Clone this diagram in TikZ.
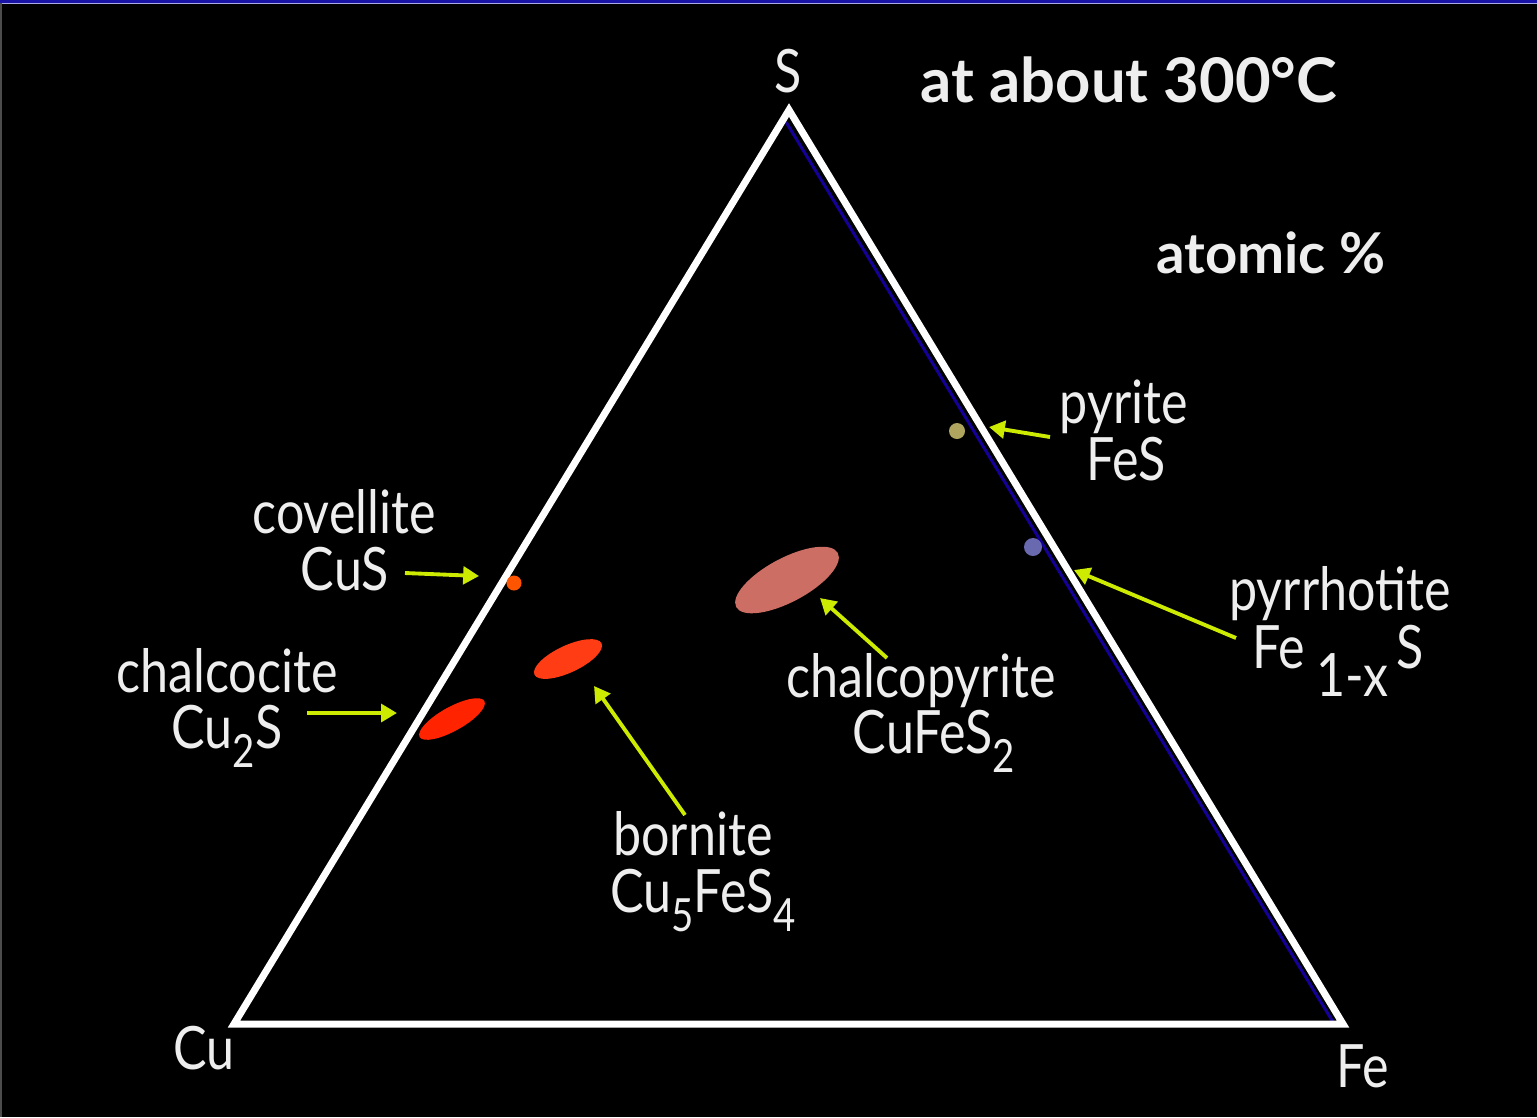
\documentclass[tikz,border=0pt]{standalone}
\usepackage{fontspec}
\setmainfont{Lato}
\newfontfamily\labfont[FakeStretch=0.84]{Lato}
\usetikzlibrary{arrows.meta,shapes.geometric}
\definecolor{navyb}{RGB}{25,20,165}
\definecolor{edgeblue}{RGB}{20,0,150}
\definecolor{arrowyel}{RGB}{205,235,0}
\definecolor{covc}{RGB}{255,85,0}
\definecolor{bornc}{RGB}{255,60,20}
\definecolor{chcc}{RGB}{255,35,0}
\definecolor{cpyc}{RGB}{205,110,100}
\definecolor{pyrc}{RGB}{175,165,95}
\definecolor{pooc}{RGB}{105,105,175}
\definecolor{labc}{RGB}{238,238,238}
\newcommand\sbs[1]{\raisebox{-5.5pt}{\fontsize{13}{13}\selectfont #1}}
\begin{document}
\begin{tikzpicture}[x=0.01cm,y=-0.01cm,
  lab/.style={font=\labfont\fontsize{17}{17}\selectfont, text=labc, inner sep=0pt, anchor=base},
  ttl/.style={font=\bfseries\fontsize{17.5}{17.5}\selectfont, text=labc, inner sep=0pt, anchor=base},
  blob/.style={ellipse, inner sep=0pt, draw=none},
  dot/.style={circle, inner sep=0pt, draw=none},
  ptr/.style={draw=arrowyel, line width=1.1pt, -{Triangle[length=4.5pt,width=5pt]}},
  side/.style={draw=white, line width=2pt, line join=miter}]
\fill[black] (0,0) rectangle (1537,1117);
\useasboundingbox (0,0) rectangle (1537,1117);
\fill[navyb] (0,0) rectangle (1537,3);
\draw[color={rgb,255:red,170;green,170;blue,230}, line width=0.3pt] (0,3.6) -- (1537,3.6);
\fill[black!70] (0,3) rectangle (2,1117);
% triangle
\coordinate (vS) at (789,110);
\coordinate (vCu) at (234,1024);
\coordinate (vFe) at (1343,1024);
\coordinate (bA) at (786,122);
\coordinate (bB) at (1333,1022);
\draw[edgeblue, line width=0.85pt] (bA) -- (bB);
\draw[side] (vS) -- (vCu) -- (vFe) -- cycle;
% phase fields
\node[blob, fill=chcc, minimum width=0.74cm, minimum height=0.24cm, rotate=29] (chc) at (452,719) {};
\node[blob, fill=bornc, minimum width=0.74cm, minimum height=0.27cm, rotate=25] (born) at (568,659) {};
\node[blob, fill=cpyc, minimum width=1.15cm, minimum height=0.44cm, rotate=28] (cpy) at (787,580) {};
\node[dot, fill=covc, minimum size=0.15cm] (cov) at (514,583) {};
\node[dot, fill=pyrc, minimum size=0.16cm] (pyr) at (957,431) {};
\node[dot, fill=pooc, minimum size=0.18cm] (poo) at (1033,547) {};
% labels
\node[lab] (sl) at (788,92) {S};
\node[ttl] (title) at (1129,102) {at about 300°C};
\node[ttl, font=\bfseries\fontsize{16}{16}\selectfont] (atom) at (1271,273) {atomic \%};
\node[lab] (covn) at (344,533) {covellite};
\node[lab] (covf) at (345,590) {CuS};
\node[lab] (chcn) at (227,692) {chalcocite};
\node[lab] (chcf) at (227,748) {Cu\sbs{2}S};
\node[lab] (cpyn) at (921,697) {chalcopyrite};
\node[lab] (cpyf) at (934,753) {CuFeS\sbs{2}};
\node[lab] (bornn) at (693,855) {bornite};
\node[lab] (bornf) at (703,912) {Cu\sbs{5}FeS\sbs{4}};
\node[lab] (pyrn) at (1124,423) {pyrite};
\node[lab] (pyrf) at (1126,480) {FeS};
\node[lab] (poon) at (1340,610) {pyrrhotite};
\node[lab, anchor=base west] (poof) at (1252,668) {Fe\kern3pt\raisebox{-8.2pt}{1-x}\kern2.4pt S};
\node[lab] (cul) at (204,1069) {Cu};
\node[lab] (fel) at (1363,1087) {Fe};
% pointers
\coordinate (covT) at (405,573); \coordinate (covH) at (479,576);
\coordinate (chcT) at (307,713); \coordinate (chcH) at (397,713);
\coordinate (bornT) at (685,815); \coordinate (bornH) at (594,686);
\coordinate (cpyT) at (887,658); \coordinate (cpyH) at (820,598);
\coordinate (pyrT) at (1050,437); \coordinate (pyrH) at (989,427);
\coordinate (pooT) at (1236,638); \coordinate (pooH) at (1074,570);
\draw[ptr] (covT) -- (covH);
\draw[ptr] (chcT) -- (chcH);
\draw[ptr] (bornT) -- (bornH);
\draw[ptr] (cpyT) -- (cpyH);
\draw[ptr] (pyrT) -- (pyrH);
\draw[ptr] (pooT) -- (pooH);
\end{tikzpicture}
\end{document}
